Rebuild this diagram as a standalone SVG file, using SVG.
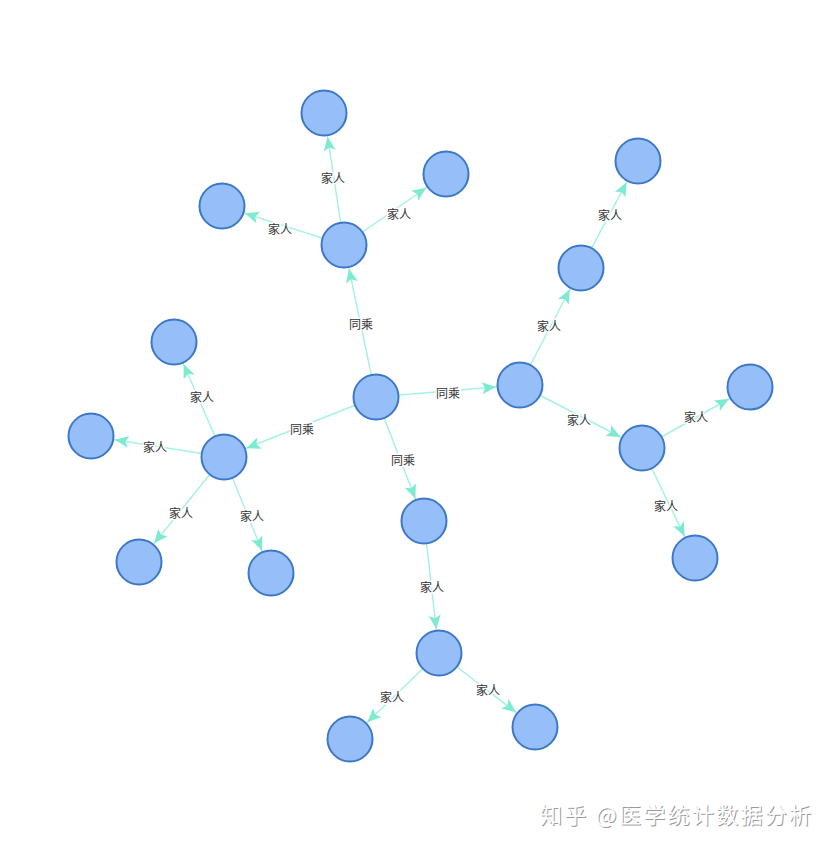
<svg xmlns="http://www.w3.org/2000/svg" width="837" height="850" viewBox="0 0 837 850">
<style>
.edge{stroke:#a6f2e2;stroke-width:1.5;fill:none;marker-end:url(#arr)}
.node circle{fill:#96bffa;stroke:#3d78c6;stroke-width:2}
.lbl{font-family:"Noto Sans CJK SC","Liberation Sans",sans-serif;font-size:12px;fill:#333;text-anchor:middle;dominant-baseline:central;stroke:#fff;stroke-width:3;paint-order:stroke;stroke-linejoin:round}
.wm{font-family:"Noto Sans CJK SC",sans-serif;font-size:22px;letter-spacing:2.3px}
</style>
<defs>
<marker id="arr" markerUnits="userSpaceOnUse" orient="auto" refX="0" refY="0" markerWidth="80" markerHeight="20" viewBox="-40 -10 80 20" overflow="visible">
<path d="M-24,0 L-38,-6 L-35,0 L-38,6 Z" fill="#7eebd0"/>
</marker>
</defs>
<rect width="837" height="850" fill="#fff"/>
<g id="connectors">
<line class="edge" x1="376" y1="397" x2="344" y2="245"/>
<line class="edge" x1="376" y1="397" x2="520" y2="385"/>
<line class="edge" x1="376" y1="397" x2="224" y2="457"/>
<line class="edge" x1="376" y1="397" x2="424" y2="521"/>
<line class="edge" x1="344" y1="245" x2="324" y2="113"/>
<line class="edge" x1="344" y1="245" x2="222" y2="206"/>
<line class="edge" x1="344" y1="245" x2="446" y2="174"/>
<line class="edge" x1="520" y1="385" x2="581" y2="268"/>
<line class="edge" x1="581" y1="268" x2="638" y2="161"/>
<line class="edge" x1="520" y1="385" x2="642" y2="448"/>
<line class="edge" x1="642" y1="448" x2="750" y2="387"/>
<line class="edge" x1="642" y1="448" x2="695" y2="558"/>
<line class="edge" x1="224" y1="457" x2="174" y2="342"/>
<line class="edge" x1="224" y1="457" x2="91" y2="436"/>
<line class="edge" x1="224" y1="457" x2="139" y2="562"/>
<line class="edge" x1="224" y1="457" x2="271" y2="573"/>
<line class="edge" x1="424" y1="521" x2="439" y2="653"/>
<line class="edge" x1="439" y1="653" x2="350" y2="739"/>
<line class="edge" x1="439" y1="653" x2="535" y2="727"/>
<g id="labels">
<text class="lbl" x="361" y="323">同乘</text>
<text class="lbl" x="448" y="392">同乘</text>
<text class="lbl" x="302" y="428">同乘</text>
<text class="lbl" x="403" y="459">同乘</text>
<text class="lbl" x="333" y="177">家人</text>
<text class="lbl" x="280" y="228">家人</text>
<text class="lbl" x="399" y="213">家人</text>
<text class="lbl" x="549" y="325">家人</text>
<text class="lbl" x="610" y="214">家人</text>
<text class="lbl" x="579" y="419">家人</text>
<text class="lbl" x="696" y="416">家人</text>
<text class="lbl" x="666" y="505">家人</text>
<text class="lbl" x="202" y="396">家人</text>
<text class="lbl" x="155" y="446">家人</text>
<text class="lbl" x="181" y="512">家人</text>
<text class="lbl" x="252" y="515">家人</text>
<text class="lbl" x="432" y="586">家人</text>
<text class="lbl" x="392" y="696">家人</text>
<text class="lbl" x="488" y="689">家人</text>
</g>
</g>
<g id="n-center" class="node"><circle cx="376" cy="397" r="22.5"/></g>
<g id="n-top" class="node"><circle cx="344" cy="245" r="22.5"/></g>
<g id="n-top-top" class="node"><circle cx="324" cy="113" r="22.5"/></g>
<g id="n-top-left" class="node"><circle cx="222" cy="206" r="22.5"/></g>
<g id="n-top-right" class="node"><circle cx="446" cy="174" r="22.5"/></g>
<g id="n-right" class="node"><circle cx="520" cy="385" r="22.5"/></g>
<g id="n-right-mid" class="node"><circle cx="581" cy="268" r="22.5"/></g>
<g id="n-right-top" class="node"><circle cx="638" cy="161" r="22.5"/></g>
<g id="n-right-down" class="node"><circle cx="642" cy="448" r="22.5"/></g>
<g id="n-right-down-r" class="node"><circle cx="750" cy="387" r="22.5"/></g>
<g id="n-right-down-b" class="node"><circle cx="695" cy="558" r="22.5"/></g>
<g id="n-left" class="node"><circle cx="224" cy="457" r="22.5"/></g>
<g id="n-left-top" class="node"><circle cx="174" cy="342" r="22.5"/></g>
<g id="n-left-left" class="node"><circle cx="91" cy="436" r="22.5"/></g>
<g id="n-left-bl" class="node"><circle cx="139" cy="562" r="22.5"/></g>
<g id="n-left-br" class="node"><circle cx="271" cy="573" r="22.5"/></g>
<g id="n-bottom-mid" class="node"><circle cx="424" cy="521" r="22.5"/></g>
<g id="n-bottom" class="node"><circle cx="439" cy="653" r="22.5"/></g>
<g id="n-bottom-l" class="node"><circle cx="350" cy="739" r="22.5"/></g>
<g id="n-bottom-r" class="node"><circle cx="535" cy="727" r="22.5"/></g>
<g id="watermark">
<text class="wm" x="541" y="824" fill="#9a9a9a">知乎 @医学统计数据分析</text>
<text class="wm" x="540" y="823" fill="#ffffff">知乎 @医学统计数据分析</text>
</g>
</svg>
